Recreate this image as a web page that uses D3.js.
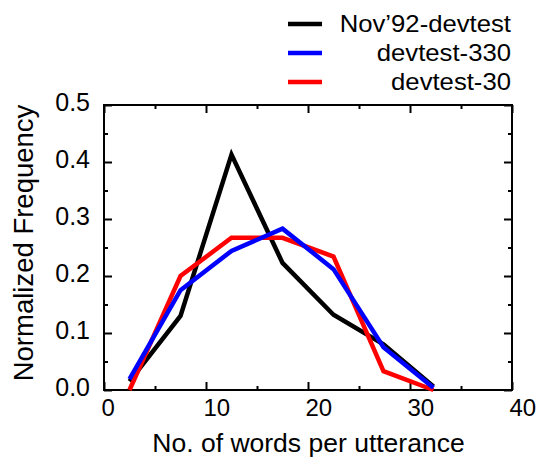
<!DOCTYPE html>
<html>
<head>
<meta charset="utf-8">
<script src="https://cdn.jsdelivr.net/npm/d3@7"></script>
<style>
  body { margin: 0; background: #fff; }
  text { font-family: "Liberation Sans", Arial, Helvetica, sans-serif; fill: #000; }
</style>
</head>
<body>
<div class="chart"></div>
<script>
const W = 537
const H = 459

// values
const wordsPerUtt = [2.5, 7.5, 12.5, 17.5, 22.5, 27.4, 32.3]
const nov92 = [0.015, 0.130, 0.413, 0.223, 0.132, 0.080, 0.006]
const dev330 = [0.019, 0.175, 0.244, 0.283, 0.212, 0.075, 0.004]
const dev30 = [0.000, 0.200, 0.267, 0.267, 0.234, 0.033, 0.000]

const seriesNames = ["Nov\u201992-devtest", "devtest-330", "devtest-30"]
const seriesColors = ["#000000", "#0000ff", "#ff0000"]

const xTicks = [0, 10, 20, 30, 40]
const xMinor = [5, 15, 25, 35]
const yTicks = [0, 0.1, 0.2, 0.3, 0.4, 0.5]
const yMinor = [0.05, 0.15, 0.25, 0.35, 0.45]

const margin = ({top: 105, right: W - 512, bottom: H - 390, left: 104})
const width = W - margin.left - margin.right
const height = H - margin.top - margin.bottom

const svg = d3.select(".chart").append("svg")
    .attr("width", W)
    .attr("height", H)

const g = svg.append("g")
    .attr("transform", `translate(${margin.left},${margin.top})`)

const xScale = d3.scaleLinear().domain([0, 40]).range([0, width])
const yScale = d3.scaleLinear().domain([0, 0.5]).range([height, 0])

// ticks on all four sides, pointing inward
const addAxis = (axis, transform) => {
    const a = g.append("g")
        .attr("transform", transform)
        .call(axis)
    a.select(".domain").remove()
    a.selectAll(".tick line").attr("stroke", "#000").attr("stroke-width", 2)
    return a
}

const xBottom = addAxis(d3.axisBottom(xScale).tickValues(xTicks).tickSize(-8).tickFormat(d3.format("d")),
    `translate(0,${height})`)
addAxis(d3.axisBottom(xScale).tickValues(xMinor).tickSize(-4).tickFormat(""), `translate(0,${height})`)
addAxis(d3.axisTop(xScale).tickValues(xTicks).tickSize(-8).tickFormat(""), "translate(0,0)")
addAxis(d3.axisTop(xScale).tickValues(xMinor).tickSize(-4).tickFormat(""), "translate(0,0)")

const yLeft = addAxis(d3.axisLeft(yScale).tickValues(yTicks).tickSize(-8).tickFormat(d3.format(".1f")),
    "translate(0,0)")
addAxis(d3.axisLeft(yScale).tickValues(yMinor).tickSize(-4).tickFormat(""), "translate(0,0)")
addAxis(d3.axisRight(yScale).tickValues(yTicks).tickSize(-8).tickFormat(""), `translate(${width},0)`)
addAxis(d3.axisRight(yScale).tickValues(yMinor).tickSize(-4).tickFormat(""), `translate(${width},0)`)

xBottom.selectAll(".tick text")
    .attr("font-size", 24)
    .attr("font-family", null)
    .attr("text-anchor", "start")
    .attr("x", -3)
    .attr("y", 26)
    .attr("dy", null)

yLeft.selectAll(".tick text")
    .attr("font-size", 25)
    .attr("font-family", null)
    .attr("text-anchor", "end")
    .attr("x", -14)
    .attr("y", 5)
    .attr("dy", null)

// frame
g.append("rect")
    .attr("width", width)
    .attr("height", height)
    .attr("fill", "none")
    .attr("stroke", "#000")
    .attr("stroke-width", 2)

// lines: black first, red, blue on top
const series = [
    {name: seriesNames[0], color: seriesColors[0], values: nov92},
    {name: seriesNames[1], color: seriesColors[1], values: dev330},
    {name: seriesNames[2], color: seriesColors[2], values: dev30}
]
const drawOrder = [series[0], series[2], series[1]]

const line = d3.line()
    .x((d, i) => xScale(wordsPerUtt[i]))
    .y(d => yScale(d))

g.selectAll(".series")
    .data(drawOrder)
    .enter()
    .append("path")
    .attr("class", "series")
    .attr("d", d => line(d.values))
    .attr("fill", "none")
    .attr("stroke", d => d.color)
    .attr("stroke-width", 4.5)
    .attr("stroke-linejoin", "miter")

// axis titles
svg.append("text")
    .attr("x", 308.5)
    .attr("y", 452)
    .attr("text-anchor", "middle")
    .attr("font-size", 26.5)
    .text("No. of words per utterance")

svg.append("text")
    .attr("transform", "translate(33,243) rotate(-90)")
    .attr("text-anchor", "middle")
    .attr("font-size", 27.5)
    .text("Normalized Frequency")

// legend
const legend = svg.selectAll(".legend")
    .data(series)
    .enter()
    .append("g")
    .attr("class", "legend")
    .attr("transform", (d, i) => `translate(0,${24 + i * 29})`)

legend.append("line")
    .attr("x1", 288)
    .attr("x2", 322)
    .attr("stroke", d => d.color)
    .attr("stroke-width", 4.5)

legend.append("text")
    .attr("x", 511)
    .attr("y", 7.5)
    .attr("text-anchor", "end")
    .attr("font-size", 24)
    .text(d => d.name)
    .each(function() {
        d3.select(this)
            .attr("textLength", this.getComputedTextLength() * 1.07)
            .attr("lengthAdjust", "spacingAndGlyphs")
    })
</script>
</body>
</html>
